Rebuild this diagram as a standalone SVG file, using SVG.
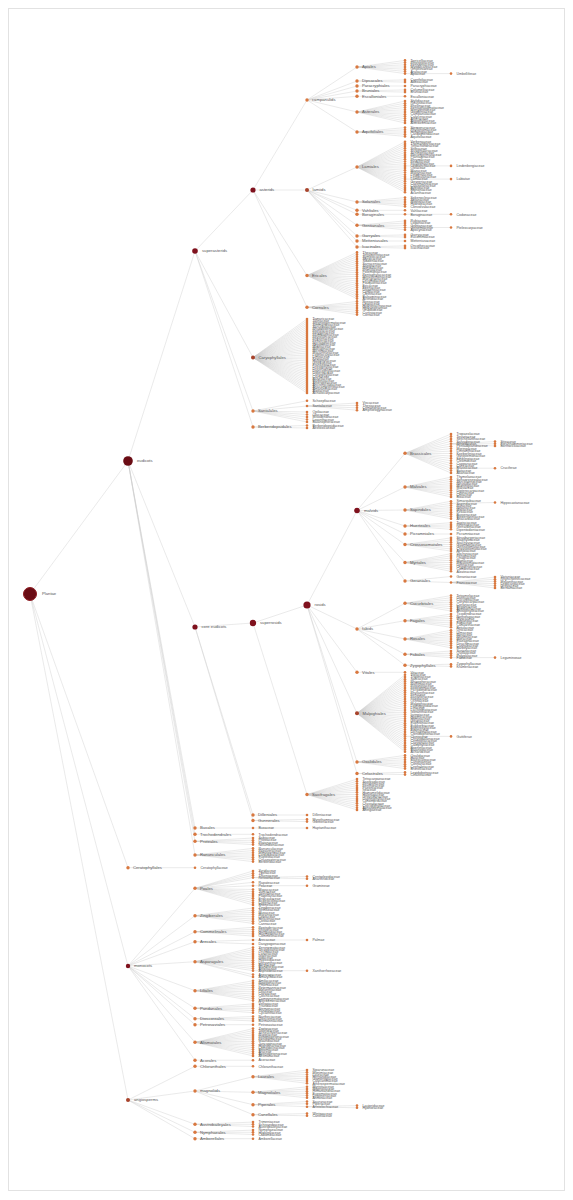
<svg xmlns="http://www.w3.org/2000/svg" width="573" height="1200" viewBox="0 0 573 1200">
<style>
text{font-family:"Liberation Sans",Arial,sans-serif;fill:#555}
.f circle{r:1.3px;fill:#d9783f}
.f text{font-size:3.5px}
.o circle{r:1.7px;fill:#d9783f}
.o text{font-size:4.2px}
.k1 circle{fill:#6a0c14}
.k2 circle{fill:#7f111d}
.k3 circle{fill:#a8432b}
#Plantae circle{r:6.5px;stroke:#8e1c22;stroke-width:1}
#eudicots circle{r:4.8px}
#superasterids circle{r:2.8px}
#asterids circle,#core-eudicots circle{r:2.6px}
#superrosids circle{r:3.2px}
#rosids circle{r:3.6px}
#malvids circle{r:2.8px}
#monocots circle{r:2.2px}
#angiosperms circle,#lamiids circle,#Caryophyllales circle,#Malpighiales circle{r:2px}
#links path{fill:none;stroke:#cacaca;stroke-width:0.4}
</style>
<rect x="8.5" y="8.5" width="556" height="1182" fill="#fff" stroke="#e2e2e2"/>
<g id="links">
<path d="M30 594L128 461M30 594L128 867.7M30 594L128 966M30 594L128 1100M128 461L195 251M128 461L195 627M128 461L195 828M128 461L195 834.3M128 461L195 841.3M128 461L195 855M195 251L253 190M195 251L253 357.5M195 251L253 411M195 251L253 427M253 190L307 100M253 190L307 190M253 190L307 275.5M253 190L307 307.3M307 100L357 67M307 100L357 81M307 100L357 86M307 100L357 91M307 100L357 96.3M307 100L357 112M307 100L357 132M307 190L357 167M307 190L357 202M307 190L357 210.3M307 190L357 214.3M307 190L357 225.3M307 190L357 236M307 190L357 241M307 190L357 247M195 627L253 623M195 627L253 815M195 627L253 820.5M253 623L307 605M253 623L307 794.5M307 605L357 510.5M307 605L357 629M307 605L357 672.3M307 605L357 713.3M307 605L357 762M307 605L357 773.5M357 510.5L405 453.3M357 510.5L405 487M357 510.5L405 510M357 510.5L405 526M357 510.5L405 534M357 510.5L405 544.5M357 510.5L405 562.5M357 510.5L405 581M357 629L405 603.3M357 629L405 620.7M357 629L405 639M357 629L405 654.3M357 629L405 665.3M128 966L195 888.3M128 966L195 915.7M128 966L195 931.7M128 966L195 941.7M128 966L195 961.7M128 966L195 990.7M128 966L195 1008.3M128 966L195 1018.7M128 966L195 1024.7M128 966L195 1042.3M128 966L195 1060.2M128 1100L195 1066.3M128 1100L195 1091M128 1100L195 1124.3M128 1100L195 1132.3M128 1100L195 1138.7M195 1091L253 1076.7M195 1091L253 1092.3M195 1091L253 1104.7M195 1091L253 1114.7M128 867.7L195 867.7"/>
<path d="M357 67L405 60.4M357 67L405 62.6M357 67L405 64.8M357 67L405 67M357 67L405 69.2M357 67L405 71.4M357 67L405 73.6M405 73.6L451 73.6M357 81L405 79.9M357 81L405 82.1M357 86L405 86M357 91L405 89.9M357 91L405 92.1M357 96.3L405 96.3M357 112L405 101M357 112L405 103.2M357 112L405 105.4M357 112L405 107.6M357 112L405 109.8M357 112L405 112M357 112L405 114.2M357 112L405 116.4M357 112L405 118.6M357 112L405 120.8M357 112L405 123M357 132L405 127.6M357 132L405 129.8M357 132L405 132M357 132L405 134.2M357 132L405 136.4"/>
<path d="M357 167L405 141.7M357 167L405 143.9M357 167L405 146.1M357 167L405 148.3M357 167L405 150.5M357 167L405 152.7M357 167L405 154.9M357 167L405 157.1M357 167L405 159.3M357 167L405 161.5M357 167L405 163.7M357 167L405 165.9M357 167L405 168.1M357 167L405 170.3M357 167L405 172.5M357 167L405 174.7M357 167L405 176.9M357 167L405 179.1M357 167L405 181.3M357 167L405 183.5M357 167L405 185.7M357 167L405 187.9M357 167L405 190.1M357 167L405 192.3M405 165.9L451 165.9M405 179.1L451 179.1M357 202L405 197.6M357 202L405 199.8M357 202L405 202M357 202L405 204.2M357 202L405 206.4M357 210.3L405 210.3M357 214.3L405 214.3M405 214.3L451 214.3M357 225.3L405 220.9M357 225.3L405 223.1M357 225.3L405 225.3M357 225.3L405 227.5M357 225.3L405 229.7M405 227.5L451 227.5M357 236L405 234.9M357 236L405 237.1M357 241L405 241M357 247L405 245.9M357 247L405 248.1"/>
<path d="M307 275.5L357 252.4M307 275.5L357 254.6M307 275.5L357 256.8M307 275.5L357 259M307 275.5L357 261.2M307 275.5L357 263.4M307 275.5L357 265.6M307 275.5L357 267.8M307 275.5L357 270M307 275.5L357 272.2M307 275.5L357 274.4M307 275.5L357 276.6M307 275.5L357 278.8M307 275.5L357 281M307 275.5L357 283.2M307 275.5L357 285.4M307 275.5L357 287.6M307 275.5L357 289.8M307 275.5L357 292M307 275.5L357 294.2M307 275.5L357 296.4M307 275.5L357 298.6M307 307.3L357 301.4M307 307.3L357 303.6M307 307.3L357 305.8M307 307.3L357 308M307 307.3L357 310.2M307 307.3L357 312.4M307 307.3L357 314.6"/>
<path d="M253 357.5L307 319M253 357.5L307 321M253 357.5L307 323M253 357.5L307 325M253 357.5L307 327M253 357.5L307 329M253 357.5L307 331M253 357.5L307 333M253 357.5L307 335M253 357.5L307 337M253 357.5L307 339M253 357.5L307 341M253 357.5L307 343M253 357.5L307 345M253 357.5L307 347M253 357.5L307 349M253 357.5L307 351M253 357.5L307 353M253 357.5L307 355M253 357.5L307 357M253 357.5L307 359M253 357.5L307 361M253 357.5L307 363M253 357.5L307 365M253 357.5L307 367M253 357.5L307 369M253 357.5L307 371M253 357.5L307 373M253 357.5L307 375M253 357.5L307 377M253 357.5L307 379M253 357.5L307 381M253 357.5L307 383M253 357.5L307 385M253 357.5L307 387M253 357.5L307 389M253 357.5L307 391M253 357.5L307 393M253 411L307 400.8M253 411L307 406M253 411L307 412M253 411L307 414.5M253 411L307 417M253 411L307 419.5M253 411L307 422M307 406L357 403M307 406L357 405.4M307 406L357 407.8M307 406L357 410.2M253 427L307 425.5M253 427L307 428"/>
<path d="M405 453.3L451 434M405 453.3L451 436.4M405 453.3L451 438.9M405 453.3L451 441.3M405 453.3L451 443.8M405 453.3L451 446.2M405 453.3L451 448.6M405 453.3L451 451.1M405 453.3L451 453.5M405 453.3L451 456M405 453.3L451 458.4M405 453.3L451 460.8M405 453.3L451 463.3M405 453.3L451 465.7M405 453.3L451 468.2M405 453.3L451 470.6M405 453.3L451 473M451 443.8L495 441.6M451 443.8L495 443.8M451 443.8L495 446M451 468.2L495 468.2M405 487L451 477.1M405 487L451 479.3M405 487L451 481.5M405 487L451 483.7M405 487L451 485.9M405 487L451 488.1M405 487L451 490.3M405 487L451 492.5M405 487L451 494.7M405 487L451 496.9M405 510L451 501.2M405 510L451 503.4M405 510L451 505.6M405 510L451 507.8M405 510L451 510M405 510L451 512.2M405 510L451 514.4M405 510L451 516.6M405 510L451 518.8M451 503.4L495 502.5M405 526L451 522.7M405 526L451 524.9M405 526L451 527.1M405 526L451 529.3M405 534L451 534M405 544.5L451 537.9M405 544.5L451 540.1M405 544.5L451 542.3M405 544.5L451 544.5M405 544.5L451 546.7M405 544.5L451 548.9M405 544.5L451 551.1M405 562.5L451 553.7M405 562.5L451 555.9M405 562.5L451 558.1M405 562.5L451 560.3M405 562.5L451 562.5M405 562.5L451 564.7M405 562.5L451 566.9M405 562.5L451 569.1M405 562.5L451 571.3M405 581L451 576.5M405 581L451 582.5M451 582.5L495 577M451 582.5L495 579.2M451 582.5L495 581.4M451 582.5L495 583.6M451 582.5L495 585.8M451 582.5L495 588"/>
<path d="M405 603.3L451 595.6M405 603.3L451 597.8M405 603.3L451 600M405 603.3L451 602.2M405 603.3L451 604.4M405 603.3L451 606.6M405 603.3L451 608.8M405 603.3L451 611M405 620.7L451 614.1M405 620.7L451 616.3M405 620.7L451 618.5M405 620.7L451 620.7M405 620.7L451 622.9M405 620.7L451 625.1M405 620.7L451 627.3M405 639L451 630.2M405 639L451 632.4M405 639L451 634.6M405 639L451 636.8M405 639L451 639M405 639L451 641.2M405 639L451 643.4M405 639L451 645.6M405 639L451 647.8M405 654.3L451 651M405 654.3L451 653.2M405 654.3L451 655.4M405 654.3L451 657.6M451 657.6L495 657.6M405 665.3L451 664.2M405 665.3L451 666.4M357 672.3L405 672.3"/>
<path d="M357 713.3L405 674.8M357 713.3L405 677M357 713.3L405 679.2M357 713.3L405 681.4M357 713.3L405 683.6M357 713.3L405 685.8M357 713.3L405 688M357 713.3L405 690.2M357 713.3L405 692.4M357 713.3L405 694.6M357 713.3L405 696.8M357 713.3L405 699M357 713.3L405 701.2M357 713.3L405 703.4M357 713.3L405 705.6M357 713.3L405 707.8M357 713.3L405 710M357 713.3L405 712.2M357 713.3L405 714.4M357 713.3L405 716.6M357 713.3L405 718.8M357 713.3L405 721M357 713.3L405 723.2M357 713.3L405 725.4M357 713.3L405 727.6M357 713.3L405 729.8M357 713.3L405 732M357 713.3L405 734.2M357 713.3L405 736.4M357 713.3L405 738.6M357 713.3L405 740.8M357 713.3L405 743M357 713.3L405 745.2M357 713.3L405 747.4M357 713.3L405 749.6M357 713.3L405 751.8M405 736.4L451 736.4M357 762L405 755.4M357 762L405 757.6M357 762L405 759.8M357 762L405 762M357 762L405 764.2M357 762L405 766.4M357 762L405 768.6M357 773.5L405 772.4M357 773.5L405 774.6"/>
<path d="M307 794.5L357 779.1M307 794.5L357 781.3M307 794.5L357 783.5M307 794.5L357 785.7M307 794.5L357 787.9M307 794.5L357 790.1M307 794.5L357 792.3M307 794.5L357 794.5M307 794.5L357 796.7M307 794.5L357 798.9M307 794.5L357 801.1M307 794.5L357 803.3M307 794.5L357 805.5M307 794.5L357 807.7M307 794.5L357 809.9M253 815L307 815M253 820.5L307 819.4M253 820.5L307 821.6M195 828L253 828M253 828L307 828M195 834.3L253 834.3M195 841.3L253 838M195 841.3L253 840.2M195 841.3L253 842.4M195 841.3L253 844.6M195 855L253 848.4M195 855L253 850.6M195 855L253 852.8M195 855L253 855M195 855L253 857.2M195 855L253 859.4M195 855L253 861.6"/>
<path d="M195 888.3L253 871M195 888.3L253 873.2M195 888.3L253 875.4M195 888.3L253 877.6M195 888.3L253 882.3M195 888.3L253 885.7M195 888.3L253 889.5M195 888.3L253 891.7M195 888.3L253 893.9M195 888.3L253 896.1M195 888.3L253 898.3M195 888.3L253 900.5M195 888.3L253 902.7M195 888.3L253 904.9M253 877.6L307 876.5M253 877.6L307 878.7M253 885.7L307 885.7M195 915.7L253 908M195 915.7L253 910.2M195 915.7L253 912.4M195 915.7L253 914.6M195 915.7L253 916.8M195 915.7L253 919M195 915.7L253 921.2M195 915.7L253 923.4M195 931.7L253 927.3M195 931.7L253 929.5M195 931.7L253 931.7M195 931.7L253 933.9M195 931.7L253 936.1M195 941.7L253 940M195 941.7L253 944M253 940L307 940M195 961.7L253 947.6M195 961.7L253 949.7M195 961.7L253 951.8M195 961.7L253 953.9M195 961.7L253 956M195 961.7L253 958.1M195 961.7L253 960.2M195 961.7L253 962.3M195 961.7L253 964.4M195 961.7L253 966.5M195 961.7L253 968.6M195 961.7L253 970.7M195 961.7L253 974.6M195 961.7L253 977M253 970.7L307 970.7"/>
<path d="M195 990.7L253 980.8M195 990.7L253 983M195 990.7L253 985.2M195 990.7L253 987.4M195 990.7L253 989.6M195 990.7L253 991.8M195 990.7L253 994M195 990.7L253 996.2M195 990.7L253 998.4M195 990.7L253 1000.6M195 1008.3L253 1003.9M195 1008.3L253 1006.1M195 1008.3L253 1008.3M195 1008.3L253 1010.5M195 1008.3L253 1012.7M195 1018.7L253 1016.5M195 1018.7L253 1018.7M195 1018.7L253 1020.9M195 1024.7L253 1024.7M195 1042.3L253 1028.6M195 1042.3L253 1030.7M195 1042.3L253 1032.8M195 1042.3L253 1034.9M195 1042.3L253 1037M195 1042.3L253 1039.1M195 1042.3L253 1041.2M195 1042.3L253 1043.3M195 1042.3L253 1045.4M195 1042.3L253 1047.5M195 1042.3L253 1049.6M195 1042.3L253 1051.7M195 1042.3L253 1053.8M195 1042.3L253 1055.9M195 1060.2L253 1060.2M195 1066.3L253 1066.3"/>
<path d="M253 1076.7L307 1070.1M253 1076.7L307 1072.3M253 1076.7L307 1074.5M253 1076.7L307 1076.7M253 1076.7L307 1078.9M253 1076.7L307 1081.1M253 1076.7L307 1083.3M253 1092.3L307 1086.8M253 1092.3L307 1089M253 1092.3L307 1091.2M253 1092.3L307 1093.4M253 1092.3L307 1095.6M253 1092.3L307 1097.8M253 1104.7L307 1101.5M253 1104.7L307 1103.7M253 1104.7L307 1106.7M307 1106.7L357 1105.6M307 1106.7L357 1107.8M253 1114.7L307 1113.6M253 1114.7L307 1115.8M195 1124.3L253 1122.1M195 1124.3L253 1124.3M195 1124.3L253 1126.5M195 1132.3L253 1130.1M195 1132.3L253 1132.3M195 1132.3L253 1134.5M195 1138.7L253 1138.7"/>
</g>
<g id="nodes">
<g id="Plantae" class="o k1" transform="translate(30 594)"><circle/><text x="12" y="1.4">Plantae</text></g>
<g id="eudicots" class="o k1" transform="translate(128 461)"><circle/><text x="9" y="1.4">eudicots</text></g>
<g id="superasterids" class="o k2" transform="translate(195 251)"><circle/><text x="7" y="1.4">superasterids</text></g>
<g id="asterids" class="o k2" transform="translate(253 190)"><circle/><text x="6.5" y="1.4">asterids</text></g>
<g id="campanulids" class="o" transform="translate(307 100)"><circle/><text x="5" y="1.4">campanulids</text></g>
<g id="lamiids" class="o k3" transform="translate(307 190)"><circle/><text x="5.5" y="1.4">lamiids</text></g>
<g id="core-eudicots" class="o k2" transform="translate(195 627)"><circle/><text x="6.5" y="1.4">core eudicots</text></g>
<g id="superrosids" class="o k2" transform="translate(253 623)"><circle/><text x="7" y="1.4">superrosids</text></g>
<g id="rosids" class="o k2" transform="translate(307 605)"><circle/><text x="7.5" y="1.4">rosids</text></g>
<g id="malvids" class="o k2" transform="translate(357 510.5)"><circle/><text x="7" y="1.4">malvids</text></g>
<g id="fabids" class="o" transform="translate(357 629)"><circle/><text x="5" y="1.4">fabids</text></g>
<g id="monocots" class="o k2" transform="translate(128 966)"><circle/><text x="6" y="1.4">monocots</text></g>
<g id="angiosperms" class="o k3" transform="translate(128 1100)"><circle/><text x="6" y="1.4">angiosperms</text></g>
<g id="magnoliids" class="o" transform="translate(195 1091)"><circle/><text x="5" y="1.4">magnoliids</text></g>
<g id="Ceratophyllales" class="o" transform="translate(128 867.7)"><circle/><text x="5" y="1.4">Ceratophyllales</text></g>
<g id="Apiales" class="o" transform="translate(357 67)"><circle/><text x="5" y="1.4">Apiales</text></g>
<g id="Dipsacales" class="o" transform="translate(357 81)"><circle/><text x="5" y="1.4">Dipsacales</text></g>
<g id="Paracryphiales" class="o" transform="translate(357 86)"><circle/><text x="5" y="1.4">Paracryphiales</text></g>
<g id="Bruniales" class="o" transform="translate(357 91)"><circle/><text x="5" y="1.4">Bruniales</text></g>
<g id="Escalloniales" class="o" transform="translate(357 96.3)"><circle/><text x="5" y="1.4">Escalloniales</text></g>
<g id="Asterales" class="o" transform="translate(357 112)"><circle/><text x="5" y="1.4">Asterales</text></g>
<g id="Aquifoliales" class="o" transform="translate(357 132)"><circle/><text x="5" y="1.4">Aquifoliales</text></g>
<g id="Lamiales" class="o" transform="translate(357 167)"><circle/><text x="5" y="1.4">Lamiales</text></g>
<g id="Solanales" class="o" transform="translate(357 202)"><circle/><text x="5" y="1.4">Solanales</text></g>
<g id="Vahliales" class="o" transform="translate(357 210.3)"><circle/><text x="5" y="1.4">Vahliales</text></g>
<g id="Boraginales" class="o" transform="translate(357 214.3)"><circle/><text x="5" y="1.4">Boraginales</text></g>
<g id="Gentianales" class="o" transform="translate(357 225.3)"><circle/><text x="5" y="1.4">Gentianales</text></g>
<g id="Garryales" class="o" transform="translate(357 236)"><circle/><text x="5" y="1.4">Garryales</text></g>
<g id="Metteniusales" class="o" transform="translate(357 241)"><circle/><text x="5" y="1.4">Metteniusales</text></g>
<g id="Icacinales" class="o" transform="translate(357 247)"><circle/><text x="5" y="1.4">Icacinales</text></g>
<g id="Ericales" class="o" transform="translate(307 275.5)"><circle/><text x="5" y="1.4">Ericales</text></g>
<g id="Cornales" class="o" transform="translate(307 307.3)"><circle/><text x="5" y="1.4">Cornales</text></g>
<g id="Caryophyllales" class="o k3" transform="translate(253 357.5)"><circle/><text x="5.5" y="1.4">Caryophyllales</text></g>
<g id="Santalales" class="o" transform="translate(253 411)"><circle/><text x="5" y="1.4">Santalales</text></g>
<g id="Berberidopsidales" class="o" transform="translate(253 427)"><circle/><text x="5" y="1.4">Berberidopsidales</text></g>
<g id="Brassicales" class="o" transform="translate(405 453.3)"><circle/><text x="5" y="1.4">Brassicales</text></g>
<g id="Malvales" class="o" transform="translate(405 487)"><circle/><text x="5" y="1.4">Malvales</text></g>
<g id="Sapindales" class="o" transform="translate(405 510)"><circle/><text x="5" y="1.4">Sapindales</text></g>
<g id="Huerteales" class="o" transform="translate(405 526)"><circle/><text x="5" y="1.4">Huerteales</text></g>
<g id="Picramniales" class="o" transform="translate(405 534)"><circle/><text x="5" y="1.4">Picramniales</text></g>
<g id="Crossosomatales" class="o" transform="translate(405 544.5)"><circle/><text x="5" y="1.4">Crossosomatales</text></g>
<g id="Myrtales" class="o" transform="translate(405 562.5)"><circle/><text x="5" y="1.4">Myrtales</text></g>
<g id="Geraniales" class="o" transform="translate(405 581)"><circle/><text x="5" y="1.4">Geraniales</text></g>
<g id="Cucurbitales" class="o" transform="translate(405 603.3)"><circle/><text x="5" y="1.4">Cucurbitales</text></g>
<g id="Fagales" class="o" transform="translate(405 620.7)"><circle/><text x="5" y="1.4">Fagales</text></g>
<g id="Rosales" class="o" transform="translate(405 639)"><circle/><text x="5" y="1.4">Rosales</text></g>
<g id="Fabales" class="o" transform="translate(405 654.3)"><circle/><text x="5" y="1.4">Fabales</text></g>
<g id="Zygophyllales" class="o" transform="translate(405 665.3)"><circle/><text x="5" y="1.4">Zygophyllales</text></g>
<g id="Vitales" class="o" transform="translate(357 672.3)"><circle/><text x="5" y="1.4">Vitales</text></g>
<g id="Malpighiales" class="o k3" transform="translate(357 713.3)"><circle/><text x="5.5" y="1.4">Malpighiales</text></g>
<g id="Oxalidales" class="o" transform="translate(357 762)"><circle/><text x="5" y="1.4">Oxalidales</text></g>
<g id="Celastrales" class="o" transform="translate(357 773.5)"><circle/><text x="5" y="1.4">Celastrales</text></g>
<g id="Saxifragales" class="o" transform="translate(307 794.5)"><circle/><text x="5" y="1.4">Saxifragales</text></g>
<g id="Dilleniales" class="o" transform="translate(253 815)"><circle/><text x="5" y="1.4">Dilleniales</text></g>
<g id="Gunnerales" class="o" transform="translate(253 820.5)"><circle/><text x="5" y="1.4">Gunnerales</text></g>
<g id="Buxales" class="o" transform="translate(195 828)"><circle/><text x="5" y="1.4">Buxales</text></g>
<g id="Trochodendrales" class="o" transform="translate(195 834.3)"><circle/><text x="5" y="1.4">Trochodendrales</text></g>
<g id="Proteales" class="o" transform="translate(195 841.3)"><circle/><text x="5" y="1.4">Proteales</text></g>
<g id="Ranunculales" class="o" transform="translate(195 855)"><circle/><text x="5" y="1.4">Ranunculales</text></g>
<g id="Poales" class="o" transform="translate(195 888.3)"><circle/><text x="5" y="1.4">Poales</text></g>
<g id="Zingiberales" class="o" transform="translate(195 915.7)"><circle/><text x="5" y="1.4">Zingiberales</text></g>
<g id="Commelinales" class="o" transform="translate(195 931.7)"><circle/><text x="5" y="1.4">Commelinales</text></g>
<g id="Arecales" class="o" transform="translate(195 941.7)"><circle/><text x="5" y="1.4">Arecales</text></g>
<g id="Asparagales" class="o" transform="translate(195 961.7)"><circle/><text x="5" y="1.4">Asparagales</text></g>
<g id="Liliales" class="o" transform="translate(195 990.7)"><circle/><text x="5" y="1.4">Liliales</text></g>
<g id="Pandanales" class="o" transform="translate(195 1008.3)"><circle/><text x="5" y="1.4">Pandanales</text></g>
<g id="Dioscoreales" class="o" transform="translate(195 1018.7)"><circle/><text x="5" y="1.4">Dioscoreales</text></g>
<g id="Petrosaviales" class="o" transform="translate(195 1024.7)"><circle/><text x="5" y="1.4">Petrosaviales</text></g>
<g id="Alismatales" class="o" transform="translate(195 1042.3)"><circle/><text x="5" y="1.4">Alismatales</text></g>
<g id="Acorales" class="o" transform="translate(195 1060.2)"><circle/><text x="5" y="1.4">Acorales</text></g>
<g id="Chloranthales" class="o" transform="translate(195 1066.3)"><circle/><text x="5" y="1.4">Chloranthales</text></g>
<g id="Laurales" class="o" transform="translate(253 1076.7)"><circle/><text x="5" y="1.4">Laurales</text></g>
<g id="Magnoliales" class="o" transform="translate(253 1092.3)"><circle/><text x="5" y="1.4">Magnoliales</text></g>
<g id="Piperales" class="o" transform="translate(253 1104.7)"><circle/><text x="5" y="1.4">Piperales</text></g>
<g id="Canellales" class="o" transform="translate(253 1114.7)"><circle/><text x="5" y="1.4">Canellales</text></g>
<g id="Austrobaileyales" class="o" transform="translate(195 1124.3)"><circle/><text x="5" y="1.4">Austrobaileyales</text></g>
<g id="Nymphaeales" class="o" transform="translate(195 1132.3)"><circle/><text x="5" y="1.4">Nymphaeales</text></g>
<g id="Amborellales" class="o" transform="translate(195 1138.7)"><circle/><text x="5" y="1.4">Amborellales</text></g>
</g>
<g id="families">
<g id="Torricelliaceae" class="f" transform="translate(405 60.4)"><circle/><text x="5.5" y="1.2">Torricelliaceae</text></g>
<g id="Pittosporaceae" class="f" transform="translate(405 62.6)"><circle/><text x="5.5" y="1.2">Pittosporaceae</text></g>
<g id="Pennantiaceae" class="f" transform="translate(405 64.8)"><circle/><text x="5.5" y="1.2">Pennantiaceae</text></g>
<g id="Myodocarpaceae" class="f" transform="translate(405 67)"><circle/><text x="5.5" y="1.2">Myodocarpaceae</text></g>
<g id="Griseliniaceae" class="f" transform="translate(405 69.2)"><circle/><text x="5.5" y="1.2">Griseliniaceae</text></g>
<g id="Araliaceae" class="f" transform="translate(405 71.4)"><circle/><text x="5.5" y="1.2">Araliaceae</text></g>
<g id="Apiaceae" class="f" transform="translate(405 73.6)"><circle/><text x="5.5" y="1.2">Apiaceae</text></g>
<g id="Umbelliferae" class="f" transform="translate(451 73.6)"><circle/><text x="5.5" y="1.2">Umbelliferae</text></g>
<g id="Caprifoliaceae" class="f" transform="translate(405 79.9)"><circle/><text x="5.5" y="1.2">Caprifoliaceae</text></g>
<g id="Adoxaceae" class="f" transform="translate(405 82.1)"><circle/><text x="5.5" y="1.2">Adoxaceae</text></g>
<g id="Paracryphiaceae" class="f" transform="translate(405 86)"><circle/><text x="5.5" y="1.2">Paracryphiaceae</text></g>
<g id="Columelliaceae" class="f" transform="translate(405 89.9)"><circle/><text x="5.5" y="1.2">Columelliaceae</text></g>
<g id="Bruniaceae" class="f" transform="translate(405 92.1)"><circle/><text x="5.5" y="1.2">Bruniaceae</text></g>
<g id="Escalloniaceae" class="f" transform="translate(405 96.3)"><circle/><text x="5.5" y="1.2">Escalloniaceae</text></g>
<g id="Stylidiaceae" class="f" transform="translate(405 101)"><circle/><text x="5.5" y="1.2">Stylidiaceae</text></g>
<g id="Rousseaceae" class="f" transform="translate(405 103.2)"><circle/><text x="5.5" y="1.2">Rousseaceae</text></g>
<g id="Phellinaceae" class="f" transform="translate(405 105.4)"><circle/><text x="5.5" y="1.2">Phellinaceae</text></g>
<g id="Pentaphragmataceae" class="f" transform="translate(405 107.6)"><circle/><text x="5.5" y="1.2">Pentaphragmataceae</text></g>
<g id="Menyanthaceae" class="f" transform="translate(405 109.8)"><circle/><text x="5.5" y="1.2">Menyanthaceae</text></g>
<g id="Goodeniaceae" class="f" transform="translate(405 112)"><circle/><text x="5.5" y="1.2">Goodeniaceae</text></g>
<g id="Campanulaceae" class="f" transform="translate(405 114.2)"><circle/><text x="5.5" y="1.2">Campanulaceae</text></g>
<g id="Calyceraceae" class="f" transform="translate(405 116.4)"><circle/><text x="5.5" y="1.2">Calyceraceae</text></g>
<g id="Asteraceae" class="f" transform="translate(405 118.6)"><circle/><text x="5.5" y="1.2">Asteraceae</text></g>
<g id="Argophyllaceae" class="f" transform="translate(405 120.8)"><circle/><text x="5.5" y="1.2">Argophyllaceae</text></g>
<g id="Alseuosmiaceae" class="f" transform="translate(405 123)"><circle/><text x="5.5" y="1.2">Alseuosmiaceae</text></g>
<g id="Stemonuraceae" class="f" transform="translate(405 127.6)"><circle/><text x="5.5" y="1.2">Stemonuraceae</text></g>
<g id="Phyllonomaceae" class="f" transform="translate(405 129.8)"><circle/><text x="5.5" y="1.2">Phyllonomaceae</text></g>
<g id="Helwingiaceae" class="f" transform="translate(405 132)"><circle/><text x="5.5" y="1.2">Helwingiaceae</text></g>
<g id="Cardiopteridaceae" class="f" transform="translate(405 134.2)"><circle/><text x="5.5" y="1.2">Cardiopteridaceae</text></g>
<g id="Aquifoliaceae" class="f" transform="translate(405 136.4)"><circle/><text x="5.5" y="1.2">Aquifoliaceae</text></g>
<g id="Verbenaceae" class="f" transform="translate(405 141.7)"><circle/><text x="5.5" y="1.2">Verbenaceae</text></g>
<g id="Thomandersiaceae" class="f" transform="translate(405 143.9)"><circle/><text x="5.5" y="1.2">Thomandersiaceae</text></g>
<g id="Tetrachondraceae" class="f" transform="translate(405 146.1)"><circle/><text x="5.5" y="1.2">Tetrachondraceae</text></g>
<g id="Stilbaceae" class="f" transform="translate(405 148.3)"><circle/><text x="5.5" y="1.2">Stilbaceae</text></g>
<g id="Scrophulariaceae" class="f" transform="translate(405 150.5)"><circle/><text x="5.5" y="1.2">Scrophulariaceae</text></g>
<g id="Schlegeliaceae" class="f" transform="translate(405 152.7)"><circle/><text x="5.5" y="1.2">Schlegeliaceae</text></g>
<g id="Plocospermataceae" class="f" transform="translate(405 154.9)"><circle/><text x="5.5" y="1.2">Plocospermataceae</text></g>
<g id="Plantaginaceae" class="f" transform="translate(405 157.1)"><circle/><text x="5.5" y="1.2">Plantaginaceae</text></g>
<g id="Phrymaceae" class="f" transform="translate(405 159.3)"><circle/><text x="5.5" y="1.2">Phrymaceae</text></g>
<g id="Pedaliaceae" class="f" transform="translate(405 161.5)"><circle/><text x="5.5" y="1.2">Pedaliaceae</text></g>
<g id="Paulowniaceae" class="f" transform="translate(405 163.7)"><circle/><text x="5.5" y="1.2">Paulowniaceae</text></g>
<g id="Orobanchaceae" class="f" transform="translate(405 165.9)"><circle/><text x="5.5" y="1.2">Orobanchaceae</text></g>
<g id="Lindenbergiaceae" class="f" transform="translate(451 165.9)"><circle/><text x="5.5" y="1.2">Lindenbergiaceae</text></g>
<g id="Oleaceae" class="f" transform="translate(405 168.1)"><circle/><text x="5.5" y="1.2">Oleaceae</text></g>
<g id="Mazaceae" class="f" transform="translate(405 170.3)"><circle/><text x="5.5" y="1.2">Mazaceae</text></g>
<g id="Martyniaceae" class="f" transform="translate(405 172.5)"><circle/><text x="5.5" y="1.2">Martyniaceae</text></g>
<g id="Linderniaceae" class="f" transform="translate(405 174.7)"><circle/><text x="5.5" y="1.2">Linderniaceae</text></g>
<g id="Lentibulariaceae" class="f" transform="translate(405 176.9)"><circle/><text x="5.5" y="1.2">Lentibulariaceae</text></g>
<g id="Lamiaceae" class="f" transform="translate(405 179.1)"><circle/><text x="5.5" y="1.2">Lamiaceae</text></g>
<g id="Labiatae" class="f" transform="translate(451 179.1)"><circle/><text x="5.5" y="1.2">Labiatae</text></g>
<g id="Gesneriaceae" class="f" transform="translate(405 181.3)"><circle/><text x="5.5" y="1.2">Gesneriaceae</text></g>
<g id="Carlemanniaceae" class="f" transform="translate(405 183.5)"><circle/><text x="5.5" y="1.2">Carlemanniaceae</text></g>
<g id="Calceolariaceae" class="f" transform="translate(405 185.7)"><circle/><text x="5.5" y="1.2">Calceolariaceae</text></g>
<g id="Byblidaceae" class="f" transform="translate(405 187.9)"><circle/><text x="5.5" y="1.2">Byblidaceae</text></g>
<g id="Bignoniaceae" class="f" transform="translate(405 190.1)"><circle/><text x="5.5" y="1.2">Bignoniaceae</text></g>
<g id="Acanthaceae" class="f" transform="translate(405 192.3)"><circle/><text x="5.5" y="1.2">Acanthaceae</text></g>
<g id="Sphenocleaceae" class="f" transform="translate(405 197.6)"><circle/><text x="5.5" y="1.2">Sphenocleaceae</text></g>
<g id="Solanaceae" class="f" transform="translate(405 199.8)"><circle/><text x="5.5" y="1.2">Solanaceae</text></g>
<g id="Montiniaceae" class="f" transform="translate(405 202)"><circle/><text x="5.5" y="1.2">Montiniaceae</text></g>
<g id="Hydroleaceae" class="f" transform="translate(405 204.2)"><circle/><text x="5.5" y="1.2">Hydroleaceae</text></g>
<g id="Convolvulaceae" class="f" transform="translate(405 206.4)"><circle/><text x="5.5" y="1.2">Convolvulaceae</text></g>
<g id="Vahliaceae" class="f" transform="translate(405 210.3)"><circle/><text x="5.5" y="1.2">Vahliaceae</text></g>
<g id="Boraginaceae" class="f" transform="translate(405 214.3)"><circle/><text x="5.5" y="1.2">Boraginaceae</text></g>
<g id="Codonaceae" class="f" transform="translate(451 214.3)"><circle/><text x="5.5" y="1.2">Codonaceae</text></g>
<g id="Rubiaceae" class="f" transform="translate(405 220.9)"><circle/><text x="5.5" y="1.2">Rubiaceae</text></g>
<g id="Loganiaceae" class="f" transform="translate(405 223.1)"><circle/><text x="5.5" y="1.2">Loganiaceae</text></g>
<g id="Gentianaceae" class="f" transform="translate(405 225.3)"><circle/><text x="5.5" y="1.2">Gentianaceae</text></g>
<g id="Gelsemiaceae" class="f" transform="translate(405 227.5)"><circle/><text x="5.5" y="1.2">Gelsemiaceae</text></g>
<g id="Pteleocarpaceae" class="f" transform="translate(451 227.5)"><circle/><text x="5.5" y="1.2">Pteleocarpaceae</text></g>
<g id="Apocynaceae" class="f" transform="translate(405 229.7)"><circle/><text x="5.5" y="1.2">Apocynaceae</text></g>
<g id="Garryaceae" class="f" transform="translate(405 234.9)"><circle/><text x="5.5" y="1.2">Garryaceae</text></g>
<g id="Eucommiaceae" class="f" transform="translate(405 237.1)"><circle/><text x="5.5" y="1.2">Eucommiaceae</text></g>
<g id="Metteniusaceae" class="f" transform="translate(405 241)"><circle/><text x="5.5" y="1.2">Metteniusaceae</text></g>
<g id="Oncothecaceae" class="f" transform="translate(405 245.9)"><circle/><text x="5.5" y="1.2">Oncothecaceae</text></g>
<g id="Icacinaceae" class="f" transform="translate(405 248.1)"><circle/><text x="5.5" y="1.2">Icacinaceae</text></g>
<g id="Theaceae" class="f" transform="translate(357 252.4)"><circle/><text x="5.5" y="1.2">Theaceae</text></g>
<g id="Tetrameristaceae" class="f" transform="translate(357 254.6)"><circle/><text x="5.5" y="1.2">Tetrameristaceae</text></g>
<g id="Symplocaceae" class="f" transform="translate(357 256.8)"><circle/><text x="5.5" y="1.2">Symplocaceae</text></g>
<g id="Styracaceae" class="f" transform="translate(357 259)"><circle/><text x="5.5" y="1.2">Styracaceae</text></g>
<g id="Sladeniaceae" class="f" transform="translate(357 261.2)"><circle/><text x="5.5" y="1.2">Sladeniaceae</text></g>
<g id="Sarraceniaceae" class="f" transform="translate(357 263.4)"><circle/><text x="5.5" y="1.2">Sarraceniaceae</text></g>
<g id="Sapotaceae" class="f" transform="translate(357 265.6)"><circle/><text x="5.5" y="1.2">Sapotaceae</text></g>
<g id="Roridulaceae" class="f" transform="translate(357 267.8)"><circle/><text x="5.5" y="1.2">Roridulaceae</text></g>
<g id="Primulaceae" class="f" transform="translate(357 270)"><circle/><text x="5.5" y="1.2">Primulaceae</text></g>
<g id="Polemoniaceae" class="f" transform="translate(357 272.2)"><circle/><text x="5.5" y="1.2">Polemoniaceae</text></g>
<g id="Pentaphylacaceae" class="f" transform="translate(357 274.4)"><circle/><text x="5.5" y="1.2">Pentaphylacaceae</text></g>
<g id="Mitrastemonaceae" class="f" transform="translate(357 276.6)"><circle/><text x="5.5" y="1.2">Mitrastemonaceae</text></g>
<g id="Marcgraviaceae" class="f" transform="translate(357 278.8)"><circle/><text x="5.5" y="1.2">Marcgraviaceae</text></g>
<g id="Lecythidaceae" class="f" transform="translate(357 281)"><circle/><text x="5.5" y="1.2">Lecythidaceae</text></g>
<g id="Fouquieriaceae" class="f" transform="translate(357 283.2)"><circle/><text x="5.5" y="1.2">Fouquieriaceae</text></g>
<g id="Ericaceae" class="f" transform="translate(357 285.4)"><circle/><text x="5.5" y="1.2">Ericaceae</text></g>
<g id="Ebenaceae" class="f" transform="translate(357 287.6)"><circle/><text x="5.5" y="1.2">Ebenaceae</text></g>
<g id="Diapensiaceae" class="f" transform="translate(357 289.8)"><circle/><text x="5.5" y="1.2">Diapensiaceae</text></g>
<g id="Cyrillaceae" class="f" transform="translate(357 292)"><circle/><text x="5.5" y="1.2">Cyrillaceae</text></g>
<g id="Clethraceae" class="f" transform="translate(357 294.2)"><circle/><text x="5.5" y="1.2">Clethraceae</text></g>
<g id="Balsaminaceae" class="f" transform="translate(357 296.4)"><circle/><text x="5.5" y="1.2">Balsaminaceae</text></g>
<g id="Actinidiaceae" class="f" transform="translate(357 298.6)"><circle/><text x="5.5" y="1.2">Actinidiaceae</text></g>
<g id="Nyssaceae" class="f" transform="translate(357 301.4)"><circle/><text x="5.5" y="1.2">Nyssaceae</text></g>
<g id="Loasaceae" class="f" transform="translate(357 303.6)"><circle/><text x="5.5" y="1.2">Loasaceae</text></g>
<g id="Hydrostachyaceae" class="f" transform="translate(357 305.8)"><circle/><text x="5.5" y="1.2">Hydrostachyaceae</text></g>
<g id="Hydrangeaceae" class="f" transform="translate(357 308)"><circle/><text x="5.5" y="1.2">Hydrangeaceae</text></g>
<g id="Grubbiaceae" class="f" transform="translate(357 310.2)"><circle/><text x="5.5" y="1.2">Grubbiaceae</text></g>
<g id="Curtisiaceae" class="f" transform="translate(357 312.4)"><circle/><text x="5.5" y="1.2">Curtisiaceae</text></g>
<g id="Cornaceae" class="f" transform="translate(357 314.6)"><circle/><text x="5.5" y="1.2">Cornaceae</text></g>
<g id="Tamaricaceae" class="f" transform="translate(307 319)"><circle/><text x="5.5" y="1.2">Tamaricaceae</text></g>
<g id="Talinaceae" class="f" transform="translate(307 321)"><circle/><text x="5.5" y="1.2">Talinaceae</text></g>
<g id="Stegnospermataceae" class="f" transform="translate(307 323)"><circle/><text x="5.5" y="1.2">Stegnospermataceae</text></g>
<g id="Simmondsiaceae" class="f" transform="translate(307 325)"><circle/><text x="5.5" y="1.2">Simmondsiaceae</text></g>
<g id="Sarcobataceae" class="f" transform="translate(307 327)"><circle/><text x="5.5" y="1.2">Sarcobataceae</text></g>
<g id="Rhabdodendraceae" class="f" transform="translate(307 329)"><circle/><text x="5.5" y="1.2">Rhabdodendraceae</text></g>
<g id="Portulacaceae" class="f" transform="translate(307 331)"><circle/><text x="5.5" y="1.2">Portulacaceae</text></g>
<g id="Polygonaceae" class="f" transform="translate(307 333)"><circle/><text x="5.5" y="1.2">Polygonaceae</text></g>
<g id="Plumbaginaceae" class="f" transform="translate(307 335)"><circle/><text x="5.5" y="1.2">Plumbaginaceae</text></g>
<g id="Phytolaccaceae" class="f" transform="translate(307 337)"><circle/><text x="5.5" y="1.2">Phytolaccaceae</text></g>
<g id="Physenaceae" class="f" transform="translate(307 339)"><circle/><text x="5.5" y="1.2">Physenaceae</text></g>
<g id="Petiveriaceae" class="f" transform="translate(307 341)"><circle/><text x="5.5" y="1.2">Petiveriaceae</text></g>
<g id="Nyctaginaceae" class="f" transform="translate(307 343)"><circle/><text x="5.5" y="1.2">Nyctaginaceae</text></g>
<g id="Nepenthaceae" class="f" transform="translate(307 345)"><circle/><text x="5.5" y="1.2">Nepenthaceae</text></g>
<g id="Montiaceae" class="f" transform="translate(307 347)"><circle/><text x="5.5" y="1.2">Montiaceae</text></g>
<g id="Molluginaceae" class="f" transform="translate(307 349)"><circle/><text x="5.5" y="1.2">Molluginaceae</text></g>
<g id="Microteaceae" class="f" transform="translate(307 351)"><circle/><text x="5.5" y="1.2">Microteaceae</text></g>
<g id="Macarthuriaceae" class="f" transform="translate(307 353)"><circle/><text x="5.5" y="1.2">Macarthuriaceae</text></g>
<g id="Lophiocarpaceae" class="f" transform="translate(307 355)"><circle/><text x="5.5" y="1.2">Lophiocarpaceae</text></g>
<g id="Limeaceae" class="f" transform="translate(307 357)"><circle/><text x="5.5" y="1.2">Limeaceae</text></g>
<g id="Kewaceae" class="f" transform="translate(307 359)"><circle/><text x="5.5" y="1.2">Kewaceae</text></g>
<g id="Halophytaceae" class="f" transform="translate(307 361)"><circle/><text x="5.5" y="1.2">Halophytaceae</text></g>
<g id="Gisekiaceae" class="f" transform="translate(307 363)"><circle/><text x="5.5" y="1.2">Gisekiaceae</text></g>
<g id="Frankeniaceae" class="f" transform="translate(307 365)"><circle/><text x="5.5" y="1.2">Frankeniaceae</text></g>
<g id="Drosophyllaceae" class="f" transform="translate(307 367)"><circle/><text x="5.5" y="1.2">Drosophyllaceae</text></g>
<g id="Droseraceae" class="f" transform="translate(307 369)"><circle/><text x="5.5" y="1.2">Droseraceae</text></g>
<g id="Dioncophyllaceae" class="f" transform="translate(307 371)"><circle/><text x="5.5" y="1.2">Dioncophyllaceae</text></g>
<g id="Didiereaceae" class="f" transform="translate(307 373)"><circle/><text x="5.5" y="1.2">Didiereaceae</text></g>
<g id="Caryophyllaceae" class="f" transform="translate(307 375)"><circle/><text x="5.5" y="1.2">Caryophyllaceae</text></g>
<g id="Cactaceae" class="f" transform="translate(307 377)"><circle/><text x="5.5" y="1.2">Cactaceae</text></g>
<g id="Basellaceae" class="f" transform="translate(307 379)"><circle/><text x="5.5" y="1.2">Basellaceae</text></g>
<g id="Barbeuiaceae" class="f" transform="translate(307 381)"><circle/><text x="5.5" y="1.2">Barbeuiaceae</text></g>
<g id="Asteropeiaceae" class="f" transform="translate(307 383)"><circle/><text x="5.5" y="1.2">Asteropeiaceae</text></g>
<g id="Ancistrocladaceae" class="f" transform="translate(307 385)"><circle/><text x="5.5" y="1.2">Ancistrocladaceae</text></g>
<g id="Anacampserotaceae" class="f" transform="translate(307 387)"><circle/><text x="5.5" y="1.2">Anacampserotaceae</text></g>
<g id="Amaranthaceae" class="f" transform="translate(307 389)"><circle/><text x="5.5" y="1.2">Amaranthaceae</text></g>
<g id="Aizoaceae" class="f" transform="translate(307 391)"><circle/><text x="5.5" y="1.2">Aizoaceae</text></g>
<g id="Achatocarpaceae" class="f" transform="translate(307 393)"><circle/><text x="5.5" y="1.2">Achatocarpaceae</text></g>
<g id="Schoepfiaceae" class="f" transform="translate(307 400.8)"><circle/><text x="5.5" y="1.2">Schoepfiaceae</text></g>
<g id="Santalaceae" class="f" transform="translate(307 406)"><circle/><text x="5.5" y="1.2">Santalaceae</text></g>
<g id="Viscaceae" class="f" transform="translate(357 403)"><circle/><text x="5.5" y="1.2">Viscaceae</text></g>
<g id="Thesiaceae" class="f" transform="translate(357 405.4)"><circle/><text x="5.5" y="1.2">Thesiaceae</text></g>
<g id="Comandraceae" class="f" transform="translate(357 407.8)"><circle/><text x="5.5" y="1.2">Comandraceae</text></g>
<g id="Amphorogynaceae" class="f" transform="translate(357 410.2)"><circle/><text x="5.5" y="1.2">Amphorogynaceae</text></g>
<g id="Opiliaceae" class="f" transform="translate(307 412)"><circle/><text x="5.5" y="1.2">Opiliaceae</text></g>
<g id="Olacaceae" class="f" transform="translate(307 414.5)"><circle/><text x="5.5" y="1.2">Olacaceae</text></g>
<g id="Misodendraceae" class="f" transform="translate(307 417)"><circle/><text x="5.5" y="1.2">Misodendraceae</text></g>
<g id="Loranthaceae" class="f" transform="translate(307 419.5)"><circle/><text x="5.5" y="1.2">Loranthaceae</text></g>
<g id="Balanophoraceae" class="f" transform="translate(307 422)"><circle/><text x="5.5" y="1.2">Balanophoraceae</text></g>
<g id="Berberidopsidaceae" class="f" transform="translate(307 425.5)"><circle/><text x="5.5" y="1.2">Berberidopsidaceae</text></g>
<g id="Aextoxicaceae" class="f" transform="translate(307 428)"><circle/><text x="5.5" y="1.2">Aextoxicaceae</text></g>
<g id="Tropaeolaceae" class="f" transform="translate(451 434)"><circle/><text x="5.5" y="1.2">Tropaeolaceae</text></g>
<g id="Tovariaceae" class="f" transform="translate(451 436.4)"><circle/><text x="5.5" y="1.2">Tovariaceae</text></g>
<g id="Setchellanthaceae" class="f" transform="translate(451 438.9)"><circle/><text x="5.5" y="1.2">Setchellanthaceae</text></g>
<g id="Salvadoraceae" class="f" transform="translate(451 441.3)"><circle/><text x="5.5" y="1.2">Salvadoraceae</text></g>
<g id="Resedaceae" class="f" transform="translate(451 443.8)"><circle/><text x="5.5" y="1.2">Resedaceae</text></g>
<g id="Stixaceae" class="f" transform="translate(495 441.6)"><circle/><text x="5.5" y="1.2">Stixaceae</text></g>
<g id="Forchhammeriaceae" class="f" transform="translate(495 443.8)"><circle/><text x="5.5" y="1.2">Forchhammeriaceae</text></g>
<g id="Borthwickiaceae" class="f" transform="translate(495 446)"><circle/><text x="5.5" y="1.2">Borthwickiaceae</text></g>
<g id="Pentadiplandraceae" class="f" transform="translate(451 446.2)"><circle/><text x="5.5" y="1.2">Pentadiplandraceae</text></g>
<g id="Moringaceae" class="f" transform="translate(451 448.6)"><circle/><text x="5.5" y="1.2">Moringaceae</text></g>
<g id="Limnanthaceae" class="f" transform="translate(451 451.1)"><circle/><text x="5.5" y="1.2">Limnanthaceae</text></g>
<g id="Koeberliniaceae" class="f" transform="translate(451 453.5)"><circle/><text x="5.5" y="1.2">Koeberliniaceae</text></g>
<g id="Gyrostemonaceae" class="f" transform="translate(451 456)"><circle/><text x="5.5" y="1.2">Gyrostemonaceae</text></g>
<g id="Emblingiaceae" class="f" transform="translate(451 458.4)"><circle/><text x="5.5" y="1.2">Emblingiaceae</text></g>
<g id="Cleomaceae" class="f" transform="translate(451 460.8)"><circle/><text x="5.5" y="1.2">Cleomaceae</text></g>
<g id="Capparaceae" class="f" transform="translate(451 463.3)"><circle/><text x="5.5" y="1.2">Capparaceae</text></g>
<g id="Caricaceae" class="f" transform="translate(451 465.7)"><circle/><text x="5.5" y="1.2">Caricaceae</text></g>
<g id="Brassicaceae" class="f" transform="translate(451 468.2)"><circle/><text x="5.5" y="1.2">Brassicaceae</text></g>
<g id="Cruciferae" class="f" transform="translate(495 468.2)"><circle/><text x="5.5" y="1.2">Cruciferae</text></g>
<g id="Bataceae" class="f" transform="translate(451 470.6)"><circle/><text x="5.5" y="1.2">Bataceae</text></g>
<g id="Akaniaceae" class="f" transform="translate(451 473)"><circle/><text x="5.5" y="1.2">Akaniaceae</text></g>
<g id="Thymelaeaceae" class="f" transform="translate(451 477.1)"><circle/><text x="5.5" y="1.2">Thymelaeaceae</text></g>
<g id="Sphaerosepalaceae" class="f" transform="translate(451 479.3)"><circle/><text x="5.5" y="1.2">Sphaerosepalaceae</text></g>
<g id="Sarcolaenaceae" class="f" transform="translate(451 481.5)"><circle/><text x="5.5" y="1.2">Sarcolaenaceae</text></g>
<g id="Neuradaceae" class="f" transform="translate(451 483.7)"><circle/><text x="5.5" y="1.2">Neuradaceae</text></g>
<g id="Muntingiaceae" class="f" transform="translate(451 485.9)"><circle/><text x="5.5" y="1.2">Muntingiaceae</text></g>
<g id="Malvaceae" class="f" transform="translate(451 488.1)"><circle/><text x="5.5" y="1.2">Malvaceae</text></g>
<g id="Dipterocarpaceae" class="f" transform="translate(451 490.3)"><circle/><text x="5.5" y="1.2">Dipterocarpaceae</text></g>
<g id="Cytinaceae" class="f" transform="translate(451 492.5)"><circle/><text x="5.5" y="1.2">Cytinaceae</text></g>
<g id="Cistaceae" class="f" transform="translate(451 494.7)"><circle/><text x="5.5" y="1.2">Cistaceae</text></g>
<g id="Bixaceae" class="f" transform="translate(451 496.9)"><circle/><text x="5.5" y="1.2">Bixaceae</text></g>
<g id="Simaroubaceae" class="f" transform="translate(451 501.2)"><circle/><text x="5.5" y="1.2">Simaroubaceae</text></g>
<g id="Sapindaceae" class="f" transform="translate(451 503.4)"><circle/><text x="5.5" y="1.2">Sapindaceae</text></g>
<g id="Hippocastanaceae" class="f" transform="translate(495 502.5)"><circle/><text x="5.5" y="1.2">Hippocastanaceae</text></g>
<g id="Rutaceae" class="f" transform="translate(451 505.6)"><circle/><text x="5.5" y="1.2">Rutaceae</text></g>
<g id="Nitrariaceae" class="f" transform="translate(451 507.8)"><circle/><text x="5.5" y="1.2">Nitrariaceae</text></g>
<g id="Meliaceae" class="f" transform="translate(451 510)"><circle/><text x="5.5" y="1.2">Meliaceae</text></g>
<g id="Kirkiaceae" class="f" transform="translate(451 512.2)"><circle/><text x="5.5" y="1.2">Kirkiaceae</text></g>
<g id="Burseraceae" class="f" transform="translate(451 514.4)"><circle/><text x="5.5" y="1.2">Burseraceae</text></g>
<g id="Biebersteiniaceae" class="f" transform="translate(451 516.6)"><circle/><text x="5.5" y="1.2">Biebersteiniaceae</text></g>
<g id="Anacardiaceae" class="f" transform="translate(451 518.8)"><circle/><text x="5.5" y="1.2">Anacardiaceae</text></g>
<g id="Tapisciaceae" class="f" transform="translate(451 522.7)"><circle/><text x="5.5" y="1.2">Tapisciaceae</text></g>
<g id="Petenaeaceae" class="f" transform="translate(451 524.9)"><circle/><text x="5.5" y="1.2">Petenaeaceae</text></g>
<g id="Gerrardinaceae" class="f" transform="translate(451 527.1)"><circle/><text x="5.5" y="1.2">Gerrardinaceae</text></g>
<g id="Dipentodontaceae" class="f" transform="translate(451 529.3)"><circle/><text x="5.5" y="1.2">Dipentodontaceae</text></g>
<g id="Picramniaceae" class="f" transform="translate(451 534)"><circle/><text x="5.5" y="1.2">Picramniaceae</text></g>
<g id="Strasburgeriaceae" class="f" transform="translate(451 537.9)"><circle/><text x="5.5" y="1.2">Strasburgeriaceae</text></g>
<g id="Staphyleaceae" class="f" transform="translate(451 540.1)"><circle/><text x="5.5" y="1.2">Staphyleaceae</text></g>
<g id="Stachyuraceae" class="f" transform="translate(451 542.3)"><circle/><text x="5.5" y="1.2">Stachyuraceae</text></g>
<g id="Guamatelaceae" class="f" transform="translate(451 544.5)"><circle/><text x="5.5" y="1.2">Guamatelaceae</text></g>
<g id="Geissolomataceae" class="f" transform="translate(451 546.7)"><circle/><text x="5.5" y="1.2">Geissolomataceae</text></g>
<g id="Crossosomataceae" class="f" transform="translate(451 548.9)"><circle/><text x="5.5" y="1.2">Crossosomataceae</text></g>
<g id="Aphloiaceae" class="f" transform="translate(451 551.1)"><circle/><text x="5.5" y="1.2">Aphloiaceae</text></g>
<g id="Vochysiaceae" class="f" transform="translate(451 553.7)"><circle/><text x="5.5" y="1.2">Vochysiaceae</text></g>
<g id="Penaeaceae" class="f" transform="translate(451 555.9)"><circle/><text x="5.5" y="1.2">Penaeaceae</text></g>
<g id="Onagraceae" class="f" transform="translate(451 558.1)"><circle/><text x="5.5" y="1.2">Onagraceae</text></g>
<g id="Myrtaceae" class="f" transform="translate(451 560.3)"><circle/><text x="5.5" y="1.2">Myrtaceae</text></g>
<g id="Melastomataceae" class="f" transform="translate(451 562.5)"><circle/><text x="5.5" y="1.2">Melastomataceae</text></g>
<g id="Lythraceae" class="f" transform="translate(451 564.7)"><circle/><text x="5.5" y="1.2">Lythraceae</text></g>
<g id="Crypteroniaceae" class="f" transform="translate(451 566.9)"><circle/><text x="5.5" y="1.2">Crypteroniaceae</text></g>
<g id="Combretaceae" class="f" transform="translate(451 569.1)"><circle/><text x="5.5" y="1.2">Combretaceae</text></g>
<g id="Alzateaceae" class="f" transform="translate(451 571.3)"><circle/><text x="5.5" y="1.2">Alzateaceae</text></g>
<g id="Geraniaceae" class="f" transform="translate(451 576.5)"><circle/><text x="5.5" y="1.2">Geraniaceae</text></g>
<g id="Francoaceae" class="f" transform="translate(451 582.5)"><circle/><text x="5.5" y="1.2">Francoaceae</text></g>
<g id="Vivianiaceae" class="f" transform="translate(495 577)"><circle/><text x="5.5" y="1.2">Vivianiaceae</text></g>
<g id="Rhynchothecaceae" class="f" transform="translate(495 579.2)"><circle/><text x="5.5" y="1.2">Rhynchothecaceae</text></g>
<g id="Melianthaceae" class="f" transform="translate(495 581.4)"><circle/><text x="5.5" y="1.2">Melianthaceae</text></g>
<g id="Ledocarpaceae" class="f" transform="translate(495 583.6)"><circle/><text x="5.5" y="1.2">Ledocarpaceae</text></g>
<g id="Greyiaceae" class="f" transform="translate(495 585.8)"><circle/><text x="5.5" y="1.2">Greyiaceae</text></g>
<g id="Bersamaceae" class="f" transform="translate(495 588)"><circle/><text x="5.5" y="1.2">Bersamaceae</text></g>
<g id="Tetramelaceae" class="f" transform="translate(451 595.6)"><circle/><text x="5.5" y="1.2">Tetramelaceae</text></g>
<g id="Datiscaceae" class="f" transform="translate(451 597.8)"><circle/><text x="5.5" y="1.2">Datiscaceae</text></g>
<g id="Cucurbitaceae" class="f" transform="translate(451 600)"><circle/><text x="5.5" y="1.2">Cucurbitaceae</text></g>
<g id="Corynocarpaceae" class="f" transform="translate(451 602.2)"><circle/><text x="5.5" y="1.2">Corynocarpaceae</text></g>
<g id="Coriariaceae" class="f" transform="translate(451 604.4)"><circle/><text x="5.5" y="1.2">Coriariaceae</text></g>
<g id="Begoniaceae" class="f" transform="translate(451 606.6)"><circle/><text x="5.5" y="1.2">Begoniaceae</text></g>
<g id="Apodanthaceae" class="f" transform="translate(451 608.8)"><circle/><text x="5.5" y="1.2">Apodanthaceae</text></g>
<g id="Anisophylleaceae" class="f" transform="translate(451 611)"><circle/><text x="5.5" y="1.2">Anisophylleaceae</text></g>
<g id="Ticodendraceae" class="f" transform="translate(451 614.1)"><circle/><text x="5.5" y="1.2">Ticodendraceae</text></g>
<g id="Nothofagaceae" class="f" transform="translate(451 616.3)"><circle/><text x="5.5" y="1.2">Nothofagaceae</text></g>
<g id="Myricaceae" class="f" transform="translate(451 618.5)"><circle/><text x="5.5" y="1.2">Myricaceae</text></g>
<g id="Juglandaceae" class="f" transform="translate(451 620.7)"><circle/><text x="5.5" y="1.2">Juglandaceae</text></g>
<g id="Fagaceae" class="f" transform="translate(451 622.9)"><circle/><text x="5.5" y="1.2">Fagaceae</text></g>
<g id="Casuarinaceae" class="f" transform="translate(451 625.1)"><circle/><text x="5.5" y="1.2">Casuarinaceae</text></g>
<g id="Betulaceae" class="f" transform="translate(451 627.3)"><circle/><text x="5.5" y="1.2">Betulaceae</text></g>
<g id="Urticaceae" class="f" transform="translate(451 630.2)"><circle/><text x="5.5" y="1.2">Urticaceae</text></g>
<g id="Ulmaceae" class="f" transform="translate(451 632.4)"><circle/><text x="5.5" y="1.2">Ulmaceae</text></g>
<g id="Rosaceae" class="f" transform="translate(451 634.6)"><circle/><text x="5.5" y="1.2">Rosaceae</text></g>
<g id="Rhamnaceae" class="f" transform="translate(451 636.8)"><circle/><text x="5.5" y="1.2">Rhamnaceae</text></g>
<g id="Moraceae" class="f" transform="translate(451 639)"><circle/><text x="5.5" y="1.2">Moraceae</text></g>
<g id="Elaeagnaceae" class="f" transform="translate(451 641.2)"><circle/><text x="5.5" y="1.2">Elaeagnaceae</text></g>
<g id="Dirachmaceae" class="f" transform="translate(451 643.4)"><circle/><text x="5.5" y="1.2">Dirachmaceae</text></g>
<g id="Cannabaceae" class="f" transform="translate(451 645.6)"><circle/><text x="5.5" y="1.2">Cannabaceae</text></g>
<g id="Barbeyaceae" class="f" transform="translate(451 647.8)"><circle/><text x="5.5" y="1.2">Barbeyaceae</text></g>
<g id="Surianaceae" class="f" transform="translate(451 651)"><circle/><text x="5.5" y="1.2">Surianaceae</text></g>
<g id="Quillajaceae" class="f" transform="translate(451 653.2)"><circle/><text x="5.5" y="1.2">Quillajaceae</text></g>
<g id="Polygalaceae" class="f" transform="translate(451 655.4)"><circle/><text x="5.5" y="1.2">Polygalaceae</text></g>
<g id="Fabaceae" class="f" transform="translate(451 657.6)"><circle/><text x="5.5" y="1.2">Fabaceae</text></g>
<g id="Leguminosae" class="f" transform="translate(495 657.6)"><circle/><text x="5.5" y="1.2">Leguminosae</text></g>
<g id="Zygophyllaceae" class="f" transform="translate(451 664.2)"><circle/><text x="5.5" y="1.2">Zygophyllaceae</text></g>
<g id="Krameriaceae" class="f" transform="translate(451 666.4)"><circle/><text x="5.5" y="1.2">Krameriaceae</text></g>
<g id="Vitaceae" class="f" transform="translate(405 672.3)"><circle/><text x="5.5" y="1.2">Vitaceae</text></g>
<g id="Violaceae" class="f" transform="translate(405 674.8)"><circle/><text x="5.5" y="1.2">Violaceae</text></g>
<g id="Trigoniaceae" class="f" transform="translate(405 677)"><circle/><text x="5.5" y="1.2">Trigoniaceae</text></g>
<g id="Salicaceae" class="f" transform="translate(405 679.2)"><circle/><text x="5.5" y="1.2">Salicaceae</text></g>
<g id="Rhizophoraceae" class="f" transform="translate(405 681.4)"><circle/><text x="5.5" y="1.2">Rhizophoraceae</text></g>
<g id="Rafflesiaceae" class="f" transform="translate(405 683.6)"><circle/><text x="5.5" y="1.2">Rafflesiaceae</text></g>
<g id="Putranjivaceae" class="f" transform="translate(405 685.8)"><circle/><text x="5.5" y="1.2">Putranjivaceae</text></g>
<g id="Podostemaceae" class="f" transform="translate(405 688)"><circle/><text x="5.5" y="1.2">Podostemaceae</text></g>
<g id="Picrodendraceae" class="f" transform="translate(405 690.2)"><circle/><text x="5.5" y="1.2">Picrodendraceae</text></g>
<g id="Phyllanthaceae" class="f" transform="translate(405 692.4)"><circle/><text x="5.5" y="1.2">Phyllanthaceae</text></g>
<g id="Peraceae" class="f" transform="translate(405 694.6)"><circle/><text x="5.5" y="1.2">Peraceae</text></g>
<g id="Passifloraceae" class="f" transform="translate(405 696.8)"><circle/><text x="5.5" y="1.2">Passifloraceae</text></g>
<g id="Pandaceae" class="f" transform="translate(405 699)"><circle/><text x="5.5" y="1.2">Pandaceae</text></g>
<g id="Ochnaceae" class="f" transform="translate(405 701.2)"><circle/><text x="5.5" y="1.2">Ochnaceae</text></g>
<g id="Malpighiaceae" class="f" transform="translate(405 703.4)"><circle/><text x="5.5" y="1.2">Malpighiaceae</text></g>
<g id="Lophopyxidaceae" class="f" transform="translate(405 705.6)"><circle/><text x="5.5" y="1.2">Lophopyxidaceae</text></g>
<g id="Linaceae" class="f" transform="translate(405 707.8)"><circle/><text x="5.5" y="1.2">Linaceae</text></g>
<g id="Lacistemataceae" class="f" transform="translate(405 710)"><circle/><text x="5.5" y="1.2">Lacistemataceae</text></g>
<g id="Ixonanthaceae" class="f" transform="translate(405 712.2)"><circle/><text x="5.5" y="1.2">Ixonanthaceae</text></g>
<g id="Irvingiaceae" class="f" transform="translate(405 714.4)"><circle/><text x="5.5" y="1.2">Irvingiaceae</text></g>
<g id="Hypericaceae" class="f" transform="translate(405 716.6)"><circle/><text x="5.5" y="1.2">Hypericaceae</text></g>
<g id="Humiriaceae" class="f" transform="translate(405 718.8)"><circle/><text x="5.5" y="1.2">Humiriaceae</text></g>
<g id="Goupiaceae" class="f" transform="translate(405 721)"><circle/><text x="5.5" y="1.2">Goupiaceae</text></g>
<g id="Euphroniaceae" class="f" transform="translate(405 723.2)"><circle/><text x="5.5" y="1.2">Euphroniaceae</text></g>
<g id="Euphorbiaceae" class="f" transform="translate(405 725.4)"><circle/><text x="5.5" y="1.2">Euphorbiaceae</text></g>
<g id="Erythroxylaceae" class="f" transform="translate(405 727.6)"><circle/><text x="5.5" y="1.2">Erythroxylaceae</text></g>
<g id="Elatinaceae" class="f" transform="translate(405 729.8)"><circle/><text x="5.5" y="1.2">Elatinaceae</text></g>
<g id="Dichapetalaceae" class="f" transform="translate(405 732)"><circle/><text x="5.5" y="1.2">Dichapetalaceae</text></g>
<g id="Ctenolophonaceae" class="f" transform="translate(405 734.2)"><circle/><text x="5.5" y="1.2">Ctenolophonaceae</text></g>
<g id="Clusiaceae" class="f" transform="translate(405 736.4)"><circle/><text x="5.5" y="1.2">Clusiaceae</text></g>
<g id="Guttiferae" class="f" transform="translate(451 736.4)"><circle/><text x="5.5" y="1.2">Guttiferae</text></g>
<g id="Chrysobalanaceae" class="f" transform="translate(405 738.6)"><circle/><text x="5.5" y="1.2">Chrysobalanaceae</text></g>
<g id="Centroplacaceae" class="f" transform="translate(405 740.8)"><circle/><text x="5.5" y="1.2">Centroplacaceae</text></g>
<g id="Caryocaraceae" class="f" transform="translate(405 743)"><circle/><text x="5.5" y="1.2">Caryocaraceae</text></g>
<g id="Calophyllaceae" class="f" transform="translate(405 745.2)"><circle/><text x="5.5" y="1.2">Calophyllaceae</text></g>
<g id="Bonnetiaceae" class="f" transform="translate(405 747.4)"><circle/><text x="5.5" y="1.2">Bonnetiaceae</text></g>
<g id="Balanopaceae" class="f" transform="translate(405 749.6)"><circle/><text x="5.5" y="1.2">Balanopaceae</text></g>
<g id="Achariaceae" class="f" transform="translate(405 751.8)"><circle/><text x="5.5" y="1.2">Achariaceae</text></g>
<g id="Oxalidaceae" class="f" transform="translate(405 755.4)"><circle/><text x="5.5" y="1.2">Oxalidaceae</text></g>
<g id="Huaceae" class="f" transform="translate(405 757.6)"><circle/><text x="5.5" y="1.2">Huaceae</text></g>
<g id="Elaeocarpaceae" class="f" transform="translate(405 759.8)"><circle/><text x="5.5" y="1.2">Elaeocarpaceae</text></g>
<g id="Cunoniaceae" class="f" transform="translate(405 762)"><circle/><text x="5.5" y="1.2">Cunoniaceae</text></g>
<g id="Connaraceae" class="f" transform="translate(405 764.2)"><circle/><text x="5.5" y="1.2">Connaraceae</text></g>
<g id="Cephalotaceae" class="f" transform="translate(405 766.4)"><circle/><text x="5.5" y="1.2">Cephalotaceae</text></g>
<g id="Brunelliaceae" class="f" transform="translate(405 768.6)"><circle/><text x="5.5" y="1.2">Brunelliaceae</text></g>
<g id="Lepidobotryaceae" class="f" transform="translate(405 772.4)"><circle/><text x="5.5" y="1.2">Lepidobotryaceae</text></g>
<g id="Celastraceae" class="f" transform="translate(405 774.6)"><circle/><text x="5.5" y="1.2">Celastraceae</text></g>
<g id="Tetracarpaeaceae" class="f" transform="translate(357 779.1)"><circle/><text x="5.5" y="1.2">Tetracarpaeaceae</text></g>
<g id="Saxifragaceae" class="f" transform="translate(357 781.3)"><circle/><text x="5.5" y="1.2">Saxifragaceae</text></g>
<g id="Peridiscaceae" class="f" transform="translate(357 783.5)"><circle/><text x="5.5" y="1.2">Peridiscaceae</text></g>
<g id="Penthoraceae" class="f" transform="translate(357 785.7)"><circle/><text x="5.5" y="1.2">Penthoraceae</text></g>
<g id="Paeoniaceae" class="f" transform="translate(357 787.9)"><circle/><text x="5.5" y="1.2">Paeoniaceae</text></g>
<g id="Iteaceae" class="f" transform="translate(357 790.1)"><circle/><text x="5.5" y="1.2">Iteaceae</text></g>
<g id="Hamamelidaceae" class="f" transform="translate(357 792.3)"><circle/><text x="5.5" y="1.2">Hamamelidaceae</text></g>
<g id="Haloragaceae" class="f" transform="translate(357 794.5)"><circle/><text x="5.5" y="1.2">Haloragaceae</text></g>
<g id="Grossulariaceae" class="f" transform="translate(357 796.7)"><circle/><text x="5.5" y="1.2">Grossulariaceae</text></g>
<g id="Daphniphyllaceae" class="f" transform="translate(357 798.9)"><circle/><text x="5.5" y="1.2">Daphniphyllaceae</text></g>
<g id="Cynomoriaceae" class="f" transform="translate(357 801.1)"><circle/><text x="5.5" y="1.2">Cynomoriaceae</text></g>
<g id="Crassulaceae" class="f" transform="translate(357 803.3)"><circle/><text x="5.5" y="1.2">Crassulaceae</text></g>
<g id="Cercidiphyllaceae" class="f" transform="translate(357 805.5)"><circle/><text x="5.5" y="1.2">Cercidiphyllaceae</text></g>
<g id="Aphanopetalaceae" class="f" transform="translate(357 807.7)"><circle/><text x="5.5" y="1.2">Aphanopetalaceae</text></g>
<g id="Altingiaceae" class="f" transform="translate(357 809.9)"><circle/><text x="5.5" y="1.2">Altingiaceae</text></g>
<g id="Dilleniaceae" class="f" transform="translate(307 815)"><circle/><text x="5.5" y="1.2">Dilleniaceae</text></g>
<g id="Myrothamnaceae" class="f" transform="translate(307 819.4)"><circle/><text x="5.5" y="1.2">Myrothamnaceae</text></g>
<g id="Gunneraceae" class="f" transform="translate(307 821.6)"><circle/><text x="5.5" y="1.2">Gunneraceae</text></g>
<g id="Buxaceae" class="f" transform="translate(253 828)"><circle/><text x="5.5" y="1.2">Buxaceae</text></g>
<g id="Haptanthaceae" class="f" transform="translate(307 828)"><circle/><text x="5.5" y="1.2">Haptanthaceae</text></g>
<g id="Trochodendraceae" class="f" transform="translate(253 834.3)"><circle/><text x="5.5" y="1.2">Trochodendraceae</text></g>
<g id="Sabiaceae" class="f" transform="translate(253 838)"><circle/><text x="5.5" y="1.2">Sabiaceae</text></g>
<g id="Proteaceae" class="f" transform="translate(253 840.2)"><circle/><text x="5.5" y="1.2">Proteaceae</text></g>
<g id="Platanaceae" class="f" transform="translate(253 842.4)"><circle/><text x="5.5" y="1.2">Platanaceae</text></g>
<g id="Nelumbonaceae" class="f" transform="translate(253 844.6)"><circle/><text x="5.5" y="1.2">Nelumbonaceae</text></g>
<g id="Ranunculaceae" class="f" transform="translate(253 848.4)"><circle/><text x="5.5" y="1.2">Ranunculaceae</text></g>
<g id="Papaveraceae" class="f" transform="translate(253 850.6)"><circle/><text x="5.5" y="1.2">Papaveraceae</text></g>
<g id="Menispermaceae" class="f" transform="translate(253 852.8)"><circle/><text x="5.5" y="1.2">Menispermaceae</text></g>
<g id="Lardizabalaceae" class="f" transform="translate(253 855)"><circle/><text x="5.5" y="1.2">Lardizabalaceae</text></g>
<g id="Eupteleaceae" class="f" transform="translate(253 857.2)"><circle/><text x="5.5" y="1.2">Eupteleaceae</text></g>
<g id="Circaeasteraceae" class="f" transform="translate(253 859.4)"><circle/><text x="5.5" y="1.2">Circaeasteraceae</text></g>
<g id="Berberidaceae" class="f" transform="translate(253 861.6)"><circle/><text x="5.5" y="1.2">Berberidaceae</text></g>
<g id="Ceratophyllaceae" class="f" transform="translate(195 867.7)"><circle/><text x="5.5" y="1.2">Ceratophyllaceae</text></g>
<g id="Xyridaceae" class="f" transform="translate(253 871)"><circle/><text x="5.5" y="1.2">Xyridaceae</text></g>
<g id="Typhaceae" class="f" transform="translate(253 873.2)"><circle/><text x="5.5" y="1.2">Typhaceae</text></g>
<g id="Thurniaceae" class="f" transform="translate(253 875.4)"><circle/><text x="5.5" y="1.2">Thurniaceae</text></g>
<g id="Restionaceae" class="f" transform="translate(253 877.6)"><circle/><text x="5.5" y="1.2">Restionaceae</text></g>
<g id="Centrolepidaceae" class="f" transform="translate(307 876.5)"><circle/><text x="5.5" y="1.2">Centrolepidaceae</text></g>
<g id="Anarthriaceae" class="f" transform="translate(307 878.7)"><circle/><text x="5.5" y="1.2">Anarthriaceae</text></g>
<g id="Rapateaceae" class="f" transform="translate(253 882.3)"><circle/><text x="5.5" y="1.2">Rapateaceae</text></g>
<g id="Poaceae" class="f" transform="translate(253 885.7)"><circle/><text x="5.5" y="1.2">Poaceae</text></g>
<g id="Gramineae" class="f" transform="translate(307 885.7)"><circle/><text x="5.5" y="1.2">Gramineae</text></g>
<g id="Mayacaceae" class="f" transform="translate(253 889.5)"><circle/><text x="5.5" y="1.2">Mayacaceae</text></g>
<g id="Juncaceae" class="f" transform="translate(253 891.7)"><circle/><text x="5.5" y="1.2">Juncaceae</text></g>
<g id="Joinvilleaceae" class="f" transform="translate(253 893.9)"><circle/><text x="5.5" y="1.2">Joinvilleaceae</text></g>
<g id="Flagellariaceae" class="f" transform="translate(253 896.1)"><circle/><text x="5.5" y="1.2">Flagellariaceae</text></g>
<g id="Eriocaulaceae" class="f" transform="translate(253 898.3)"><circle/><text x="5.5" y="1.2">Eriocaulaceae</text></g>
<g id="Ecdeiocoleaceae" class="f" transform="translate(253 900.5)"><circle/><text x="5.5" y="1.2">Ecdeiocoleaceae</text></g>
<g id="Cyperaceae" class="f" transform="translate(253 902.7)"><circle/><text x="5.5" y="1.2">Cyperaceae</text></g>
<g id="Bromeliaceae" class="f" transform="translate(253 904.9)"><circle/><text x="5.5" y="1.2">Bromeliaceae</text></g>
<g id="Zingiberaceae" class="f" transform="translate(253 908)"><circle/><text x="5.5" y="1.2">Zingiberaceae</text></g>
<g id="Strelitziaceae" class="f" transform="translate(253 910.2)"><circle/><text x="5.5" y="1.2">Strelitziaceae</text></g>
<g id="Musaceae" class="f" transform="translate(253 912.4)"><circle/><text x="5.5" y="1.2">Musaceae</text></g>
<g id="Marantaceae" class="f" transform="translate(253 914.6)"><circle/><text x="5.5" y="1.2">Marantaceae</text></g>
<g id="Lowiaceae" class="f" transform="translate(253 916.8)"><circle/><text x="5.5" y="1.2">Lowiaceae</text></g>
<g id="Heliconiaceae" class="f" transform="translate(253 919)"><circle/><text x="5.5" y="1.2">Heliconiaceae</text></g>
<g id="Costaceae" class="f" transform="translate(253 921.2)"><circle/><text x="5.5" y="1.2">Costaceae</text></g>
<g id="Cannaceae" class="f" transform="translate(253 923.4)"><circle/><text x="5.5" y="1.2">Cannaceae</text></g>
<g id="Pontederiaceae" class="f" transform="translate(253 927.3)"><circle/><text x="5.5" y="1.2">Pontederiaceae</text></g>
<g id="Philydraceae" class="f" transform="translate(253 929.5)"><circle/><text x="5.5" y="1.2">Philydraceae</text></g>
<g id="Hanguanaceae" class="f" transform="translate(253 931.7)"><circle/><text x="5.5" y="1.2">Hanguanaceae</text></g>
<g id="Haemodoraceae" class="f" transform="translate(253 933.9)"><circle/><text x="5.5" y="1.2">Haemodoraceae</text></g>
<g id="Commelinaceae" class="f" transform="translate(253 936.1)"><circle/><text x="5.5" y="1.2">Commelinaceae</text></g>
<g id="Arecaceae" class="f" transform="translate(253 940)"><circle/><text x="5.5" y="1.2">Arecaceae</text></g>
<g id="Palmae" class="f" transform="translate(307 940)"><circle/><text x="5.5" y="1.2">Palmae</text></g>
<g id="Dasypogonaceae" class="f" transform="translate(253 944)"><circle/><text x="5.5" y="1.2">Dasypogonaceae</text></g>
<g id="Xeronemataceae" class="f" transform="translate(253 947.6)"><circle/><text x="5.5" y="1.2">Xeronemataceae</text></g>
<g id="Tecophilaeaceae" class="f" transform="translate(253 949.7)"><circle/><text x="5.5" y="1.2">Tecophilaeaceae</text></g>
<g id="Orchidaceae" class="f" transform="translate(253 951.8)"><circle/><text x="5.5" y="1.2">Orchidaceae</text></g>
<g id="Lanariaceae" class="f" transform="translate(253 953.9)"><circle/><text x="5.5" y="1.2">Lanariaceae</text></g>
<g id="Ixioliriaceae" class="f" transform="translate(253 956)"><circle/><text x="5.5" y="1.2">Ixioliriaceae</text></g>
<g id="Iridaceae" class="f" transform="translate(253 958.1)"><circle/><text x="5.5" y="1.2">Iridaceae</text></g>
<g id="Hypoxidaceae" class="f" transform="translate(253 960.2)"><circle/><text x="5.5" y="1.2">Hypoxidaceae</text></g>
<g id="Doryanthaceae" class="f" transform="translate(253 962.3)"><circle/><text x="5.5" y="1.2">Doryanthaceae</text></g>
<g id="Boryaceae" class="f" transform="translate(253 964.4)"><circle/><text x="5.5" y="1.2">Boryaceae</text></g>
<g id="Blandfordiaceae" class="f" transform="translate(253 966.5)"><circle/><text x="5.5" y="1.2">Blandfordiaceae</text></g>
<g id="Asteliaceae" class="f" transform="translate(253 968.6)"><circle/><text x="5.5" y="1.2">Asteliaceae</text></g>
<g id="Asphodelaceae" class="f" transform="translate(253 970.7)"><circle/><text x="5.5" y="1.2">Asphodelaceae</text></g>
<g id="Xanthorrhoeaceae" class="f" transform="translate(307 970.7)"><circle/><text x="5.5" y="1.2">Xanthorrhoeaceae</text></g>
<g id="Asparagaceae" class="f" transform="translate(253 974.6)"><circle/><text x="5.5" y="1.2">Asparagaceae</text></g>
<g id="Amaryllidaceae" class="f" transform="translate(253 977)"><circle/><text x="5.5" y="1.2">Amaryllidaceae</text></g>
<g id="Smilacaceae" class="f" transform="translate(253 980.8)"><circle/><text x="5.5" y="1.2">Smilacaceae</text></g>
<g id="Ripogonaceae" class="f" transform="translate(253 983)"><circle/><text x="5.5" y="1.2">Ripogonaceae</text></g>
<g id="Philesiaceae" class="f" transform="translate(253 985.2)"><circle/><text x="5.5" y="1.2">Philesiaceae</text></g>
<g id="Petermanniaceae" class="f" transform="translate(253 987.4)"><circle/><text x="5.5" y="1.2">Petermanniaceae</text></g>
<g id="Melanthiaceae" class="f" transform="translate(253 989.6)"><circle/><text x="5.5" y="1.2">Melanthiaceae</text></g>
<g id="Liliaceae" class="f" transform="translate(253 991.8)"><circle/><text x="5.5" y="1.2">Liliaceae</text></g>
<g id="Corsiaceae" class="f" transform="translate(253 994)"><circle/><text x="5.5" y="1.2">Corsiaceae</text></g>
<g id="Colchicaceae" class="f" transform="translate(253 996.2)"><circle/><text x="5.5" y="1.2">Colchicaceae</text></g>
<g id="Campynemataceae" class="f" transform="translate(253 998.4)"><circle/><text x="5.5" y="1.2">Campynemataceae</text></g>
<g id="Alstroemeriaceae" class="f" transform="translate(253 1000.6)"><circle/><text x="5.5" y="1.2">Alstroemeriaceae</text></g>
<g id="Velloziaceae" class="f" transform="translate(253 1003.9)"><circle/><text x="5.5" y="1.2">Velloziaceae</text></g>
<g id="Triuridaceae" class="f" transform="translate(253 1006.1)"><circle/><text x="5.5" y="1.2">Triuridaceae</text></g>
<g id="Stemonaceae" class="f" transform="translate(253 1008.3)"><circle/><text x="5.5" y="1.2">Stemonaceae</text></g>
<g id="Pandanaceae" class="f" transform="translate(253 1010.5)"><circle/><text x="5.5" y="1.2">Pandanaceae</text></g>
<g id="Cyclanthaceae" class="f" transform="translate(253 1012.7)"><circle/><text x="5.5" y="1.2">Cyclanthaceae</text></g>
<g id="Nartheciaceae" class="f" transform="translate(253 1016.5)"><circle/><text x="5.5" y="1.2">Nartheciaceae</text></g>
<g id="Dioscoreaceae" class="f" transform="translate(253 1018.7)"><circle/><text x="5.5" y="1.2">Dioscoreaceae</text></g>
<g id="Burmanniaceae" class="f" transform="translate(253 1020.9)"><circle/><text x="5.5" y="1.2">Burmanniaceae</text></g>
<g id="Petrosaviaceae" class="f" transform="translate(253 1024.7)"><circle/><text x="5.5" y="1.2">Petrosaviaceae</text></g>
<g id="Zosteraceae" class="f" transform="translate(253 1028.6)"><circle/><text x="5.5" y="1.2">Zosteraceae</text></g>
<g id="Tofieldiaceae" class="f" transform="translate(253 1030.7)"><circle/><text x="5.5" y="1.2">Tofieldiaceae</text></g>
<g id="Scheuchzeriaceae" class="f" transform="translate(253 1032.8)"><circle/><text x="5.5" y="1.2">Scheuchzeriaceae</text></g>
<g id="Ruppiaceae" class="f" transform="translate(253 1034.9)"><circle/><text x="5.5" y="1.2">Ruppiaceae</text></g>
<g id="Potamogetonaceae" class="f" transform="translate(253 1037)"><circle/><text x="5.5" y="1.2">Potamogetonaceae</text></g>
<g id="Posidoniaceae" class="f" transform="translate(253 1039.1)"><circle/><text x="5.5" y="1.2">Posidoniaceae</text></g>
<g id="Maundiaceae" class="f" transform="translate(253 1041.2)"><circle/><text x="5.5" y="1.2">Maundiaceae</text></g>
<g id="Juncaginaceae" class="f" transform="translate(253 1043.3)"><circle/><text x="5.5" y="1.2">Juncaginaceae</text></g>
<g id="Hydrocharitaceae" class="f" transform="translate(253 1045.4)"><circle/><text x="5.5" y="1.2">Hydrocharitaceae</text></g>
<g id="Cymodoceaceae" class="f" transform="translate(253 1047.5)"><circle/><text x="5.5" y="1.2">Cymodoceaceae</text></g>
<g id="Butomaceae" class="f" transform="translate(253 1049.6)"><circle/><text x="5.5" y="1.2">Butomaceae</text></g>
<g id="Araceae" class="f" transform="translate(253 1051.7)"><circle/><text x="5.5" y="1.2">Araceae</text></g>
<g id="Aponogetonaceae" class="f" transform="translate(253 1053.8)"><circle/><text x="5.5" y="1.2">Aponogetonaceae</text></g>
<g id="Alismataceae" class="f" transform="translate(253 1055.9)"><circle/><text x="5.5" y="1.2">Alismataceae</text></g>
<g id="Acoraceae" class="f" transform="translate(253 1060.2)"><circle/><text x="5.5" y="1.2">Acoraceae</text></g>
<g id="Chloranthaceae" class="f" transform="translate(253 1066.3)"><circle/><text x="5.5" y="1.2">Chloranthaceae</text></g>
<g id="Siparunaceae" class="f" transform="translate(307 1070.1)"><circle/><text x="5.5" y="1.2">Siparunaceae</text></g>
<g id="Monimiaceae" class="f" transform="translate(307 1072.3)"><circle/><text x="5.5" y="1.2">Monimiaceae</text></g>
<g id="Lauraceae" class="f" transform="translate(307 1074.5)"><circle/><text x="5.5" y="1.2">Lauraceae</text></g>
<g id="Hernandiaceae" class="f" transform="translate(307 1076.7)"><circle/><text x="5.5" y="1.2">Hernandiaceae</text></g>
<g id="Gomortegaceae" class="f" transform="translate(307 1078.9)"><circle/><text x="5.5" y="1.2">Gomortegaceae</text></g>
<g id="Calycanthaceae" class="f" transform="translate(307 1081.1)"><circle/><text x="5.5" y="1.2">Calycanthaceae</text></g>
<g id="Atherospermataceae" class="f" transform="translate(307 1083.3)"><circle/><text x="5.5" y="1.2">Atherospermataceae</text></g>
<g id="Myristicaceae" class="f" transform="translate(307 1086.8)"><circle/><text x="5.5" y="1.2">Myristicaceae</text></g>
<g id="Magnoliaceae" class="f" transform="translate(307 1089)"><circle/><text x="5.5" y="1.2">Magnoliaceae</text></g>
<g id="Himantandraceae" class="f" transform="translate(307 1091.2)"><circle/><text x="5.5" y="1.2">Himantandraceae</text></g>
<g id="Eupomatiaceae" class="f" transform="translate(307 1093.4)"><circle/><text x="5.5" y="1.2">Eupomatiaceae</text></g>
<g id="Degeneriaceae" class="f" transform="translate(307 1095.6)"><circle/><text x="5.5" y="1.2">Degeneriaceae</text></g>
<g id="Annonaceae" class="f" transform="translate(307 1097.8)"><circle/><text x="5.5" y="1.2">Annonaceae</text></g>
<g id="Saururaceae" class="f" transform="translate(307 1101.5)"><circle/><text x="5.5" y="1.2">Saururaceae</text></g>
<g id="Piperaceae" class="f" transform="translate(307 1103.7)"><circle/><text x="5.5" y="1.2">Piperaceae</text></g>
<g id="Aristolochiaceae" class="f" transform="translate(307 1106.7)"><circle/><text x="5.5" y="1.2">Aristolochiaceae</text></g>
<g id="Lactoridaceae" class="f" transform="translate(357 1105.6)"><circle/><text x="5.5" y="1.2">Lactoridaceae</text></g>
<g id="Hydnoraceae" class="f" transform="translate(357 1107.8)"><circle/><text x="5.5" y="1.2">Hydnoraceae</text></g>
<g id="Winteraceae" class="f" transform="translate(307 1113.6)"><circle/><text x="5.5" y="1.2">Winteraceae</text></g>
<g id="Canellaceae" class="f" transform="translate(307 1115.8)"><circle/><text x="5.5" y="1.2">Canellaceae</text></g>
<g id="Trimeniaceae" class="f" transform="translate(253 1122.1)"><circle/><text x="5.5" y="1.2">Trimeniaceae</text></g>
<g id="Schisandraceae" class="f" transform="translate(253 1124.3)"><circle/><text x="5.5" y="1.2">Schisandraceae</text></g>
<g id="Austrobaileyaceae" class="f" transform="translate(253 1126.5)"><circle/><text x="5.5" y="1.2">Austrobaileyaceae</text></g>
<g id="Nymphaeaceae" class="f" transform="translate(253 1130.1)"><circle/><text x="5.5" y="1.2">Nymphaeaceae</text></g>
<g id="Hydatellaceae" class="f" transform="translate(253 1132.3)"><circle/><text x="5.5" y="1.2">Hydatellaceae</text></g>
<g id="Cabombaceae" class="f" transform="translate(253 1134.5)"><circle/><text x="5.5" y="1.2">Cabombaceae</text></g>
<g id="Amborellaceae" class="f" transform="translate(253 1138.7)"><circle/><text x="5.5" y="1.2">Amborellaceae</text></g>
</g>
</svg>
